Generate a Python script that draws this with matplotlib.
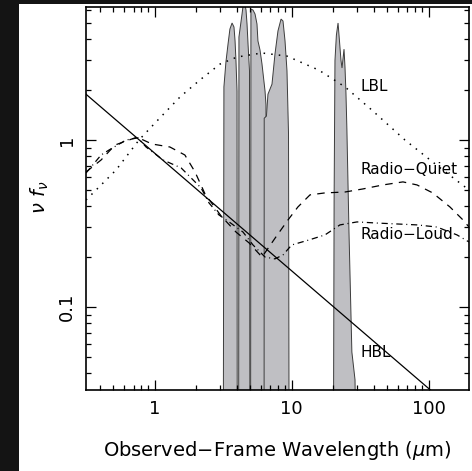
import matplotlib
matplotlib.use('Agg')
import matplotlib.pyplot as plt
from matplotlib.patches import Rectangle
from matplotlib.ticker import FixedLocator, FixedFormatter, LogLocator, NullFormatter

# ── SED templates (observed wavelength in micron, nu f_nu normalised) ──

lbl_wl = [0.315, 0.386, 0.522, 0.768, 1.02, 1.53, 2.14, 3.0, 3.99, 6.07,
          9.24, 15.8, 24.5, 38.5, 67.1, 119, 197]
lbl_flux = [0.437, 0.516, 0.661, 1.0, 1.28, 1.81, 2.29, 2.85, 3.14, 3.32,
            3.18, 2.62, 2.08, 1.51, 1.0, 0.689, 0.502]

rq_wl = [0.315, 0.406, 0.513, 0.743, 0.955, 1.29, 1.66, 1.97, 2.33, 3.05,
         3.92, 4.88, 6.07, 7.68, 9.4, 11.1, 13.6, 17.5, 24.5, 33.1, 46.4,
         64.9, 82.2, 107, 143, 178, 197]
rq_flux = [0.643, 0.759, 0.933, 1.04, 0.946, 0.908, 0.813, 0.643, 0.475,
           0.351, 0.281, 0.242, 0.199, 0.263, 0.332, 0.397, 0.469, 0.482,
           0.488, 0.509, 0.538, 0.561, 0.538, 0.482, 0.397, 0.332, 0.301]

rl_wl = [0.315, 0.406, 0.464, 0.618, 0.755, 0.864, 1.15, 1.56, 2.18, 2.49,
         2.94, 3.49, 4.41, 5.22, 6.39, 7.55, 8.64, 10.0, 13.4, 17.5, 22.5,
         30.0, 42, 58.7, 82.2, 115, 161, 197]
rl_flux = [0.634, 0.813, 0.871, 1.0, 1.03, 0.908, 0.759, 0.68, 0.516, 0.42,
           0.356, 0.323, 0.281, 0.235, 0.199, 0.194, 0.205, 0.235, 0.252,
           0.27, 0.31, 0.323, 0.318, 0.314, 0.31, 0.301, 0.27, 0.245]

hbl_wl = [0.315, 103.0]
hbl_flux = [1.88, 0.0318]

# ── Filter response profiles (IRAC 1-4, MIPS 24) ──

FLOOR = 1e-3
band_wl = [
    [3.15, 3.20, 3.31, 3.43, 3.54, 3.67, 3.79, 3.86, 3.92, 3.99, 4.01],
    [4.09, 4.12, 4.34, 4.48, 4.64, 4.72, 4.80, 4.92, 4.97],
    [5.00, 5.04, 5.22, 5.40, 5.58, 5.67, 5.87, 6.07, 6.39, 6.49, 6.54],
    [6.28, 6.30, 6.54, 6.71, 7.18, 7.55, 7.94, 8.36, 8.64, 8.94, 9.24,
     9.48, 9.63],
    [20.0, 20.4, 20.7, 21.2, 21.8, 22.3, 22.9, 23.3, 24.1, 24.5, 24.9,
     25.3, 26.2, 27.5, 29.0, 30.5],
]
band_resp = [
    [FLOOR, 2.08, 2.93, 3.76, 4.62, 5.02, 4.75, 3.92, 2.97, 1.96, FLOOR],
    [FLOOR, 4.14, 5.68, 7.0, 6.0, 4.95, 3.76, 2.59, FLOOR],
    [FLOOR, 6.09, 6.0, 5.68, 4.95, 3.92, 3.46, 2.85, 1.96, 1.62, FLOOR],
    [FLOOR, 1.35, 1.39, 1.88, 2.16, 3.27, 4.5, 5.3, 5.16, 3.92, 2.59,
     1.09, FLOOR],
    [FLOOR, 0.437, 3.0, 4.25, 5.02, 3.97, 3.0, 2.7, 3.5, 2.73, 1.91,
     1.15, 0.281, 0.0537, 0.0366, FLOOR],
]

labels = ['LBL', 'Radio\u2212Quiet', 'Radio\u2212Loud', 'HBL']
label_x = [32.0, 32.0, 32.0, 32.0]
label_y = [2.1, 0.67, 0.27, 0.0537]

xticks = [1, 10, 100]
xticklabels = ['1', '10', '100']
yticks = [0.1, 1]
yticklabels = ['0.1', '1']

# ── Figure ──

fig = plt.figure(figsize=(4.72, 4.71), dpi=100)
fig.patch.set_facecolor('white')
# dark scan border
fig.add_artist(Rectangle((0, 0), 19 / 472, 1, transform=fig.transFigure,
                         facecolor='#141414', edgecolor='none', zorder=0))
fig.add_artist(Rectangle((0, 1 - 4 / 471), 1, 4 / 471, transform=fig.transFigure,
                         facecolor='#141414', edgecolor='none', zorder=0))

ax = fig.add_axes([86 / 472, 81 / 471, 383 / 472, 383 / 471])
ax.set_xscale('log')
ax.set_yscale('log')

for wl, resp in zip(band_wl, band_resp):
    ax.fill(wl, resp, facecolor='#bfbfc3', edgecolor='#3c3c3c',
            linewidth=0.7, zorder=1)

ax.plot(lbl_wl, lbl_flux, color='black', lw=1.1, ls=(0, (1, 4)), zorder=3)
ax.plot(rq_wl, rq_flux, color='black', lw=0.9, ls=(0, (6, 5)), zorder=3)
ax.plot(rl_wl, rl_flux, color='black', lw=0.9, ls=(0, (5, 3, 0.8, 3)), zorder=3)
ax.plot(hbl_wl, hbl_flux, color='black', lw=0.9, zorder=3)

for txt, tx, ty in zip(labels, label_x, label_y):
    ax.text(tx, ty, txt, fontsize=11, va='center', ha='left', zorder=4)

ax.set_xlim(0.315, 197)
ax.set_ylim(0.0318, 6.26)

ax.xaxis.set_major_locator(FixedLocator(xticks))
ax.xaxis.set_major_formatter(FixedFormatter(xticklabels))
ax.xaxis.set_minor_locator(LogLocator(base=10, subs=range(2, 10), numticks=20))
ax.xaxis.set_minor_formatter(NullFormatter())
ax.yaxis.set_major_locator(FixedLocator(yticks))
ax.yaxis.set_major_formatter(FixedFormatter(yticklabels))
ax.yaxis.set_minor_locator(LogLocator(base=10, subs=range(2, 10), numticks=20))
ax.yaxis.set_minor_formatter(NullFormatter())

ax.tick_params(which='both', direction='in', top=True, right=True,
               width=0.9, labelsize=13)
ax.tick_params(which='major', length=7)
ax.tick_params(which='minor', length=3.8)
ax.tick_params(axis='x', pad=7)
ax.tick_params(axis='y', pad=7)
for lab in ax.get_yticklabels():
    lab.set_rotation(90)
    lab.set_va('center')
for sp in ax.spines.values():
    sp.set_linewidth(1.2)

ax.set_xlabel('Observed\u2212Frame Wavelength ($\\mu$m)', fontsize=14)
ax.xaxis.set_label_coords(0.5, -0.157)
ax.xaxis.label.set_va('center')
ax.set_ylabel('$\\nu\\ f_\\nu$', fontsize=14)
ax.yaxis.set_label_coords(-0.12, 0.504)
ax.yaxis.label.set_va('center')

fig.savefig('out.png', dpi=100)
